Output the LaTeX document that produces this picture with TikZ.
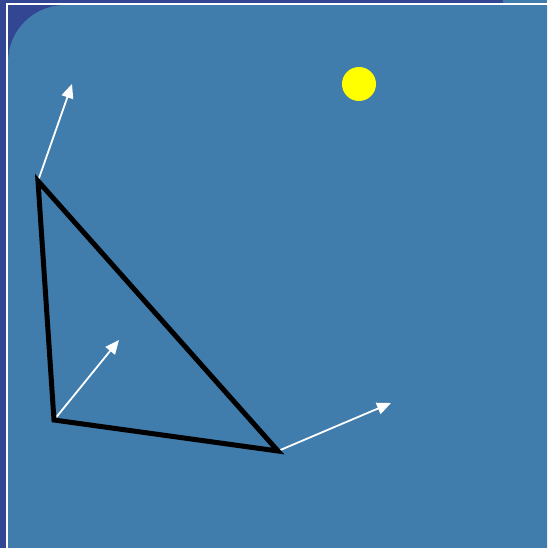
\documentclass[tikz,border=0pt]{standalone}
\usetikzlibrary{arrows.meta}
\definecolor{darkback}{RGB}{50,70,148}
\definecolor{steel}{RGB}{64,124,172}
\definecolor{sunyellow}{RGB}{255,255,0}
\tikzset{
  edge/.style={line width=5pt, line join=miter, black},
  normal/.style={line width=1.8pt, white, -{Triangle[length=14pt, width=12pt]}}
}
\begin{document}
\begin{tikzpicture}[x=1pt, y=-1pt]
\useasboundingbox (0,0) rectangle (547,548);
% background
\fill[darkback] (0,0) rectangle (547,548);
\fill[steel] (503,0) rectangle (547,4);
\fill[steel] (8,548) -- (8,62) arc[start angle=180, end angle=270, radius=57] -- (547,5) -- (547,548) -- cycle;
\draw[white, line width=1.6pt] (6.8,548) -- (6.8,3.8) -- (547,3.8);
% sun
\fill[sunyellow] (359,84) circle (17);
% triangle corners and normal tips
\coordinate (A) at (38,181);
\coordinate (B) at (54,420);
\coordinate (C) at (278,451);
\coordinate (nA) at (72,84);
\coordinate (nB) at (119,340);
\coordinate (nC) at (391,403);
% normals
\draw[normal] (A) -- (nA);
\draw[normal] (B) -- (nB);
\draw[normal] (C) -- (nC);
% triangle
\draw[edge] (A) -- (B) -- (C) -- cycle;
\end{tikzpicture}
\end{document}
